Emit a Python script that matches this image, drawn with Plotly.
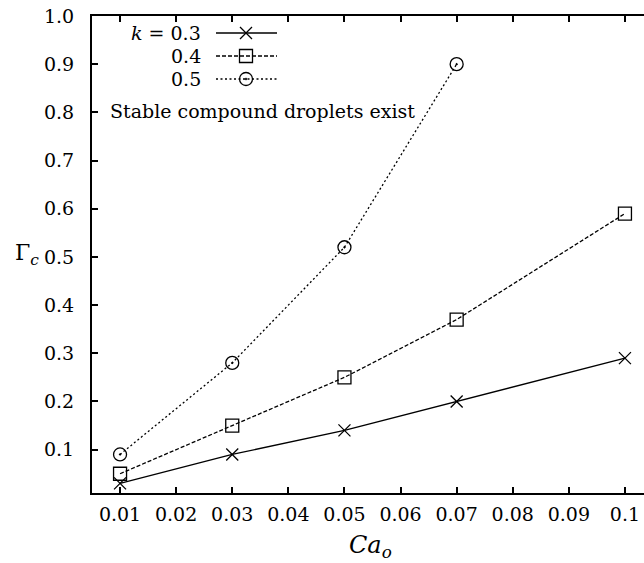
import plotly.graph_objects as go

# Critical surface tension ratio vs outer capillary number for three k values
ca_o = [0.01, 0.03, 0.05, 0.07, 0.1]
gamma_k03 = [0.03, 0.09, 0.14, 0.20, 0.29]
gamma_k04 = [0.05, 0.15, 0.25, 0.37, 0.59]
ca_o_k05 = [0.01, 0.03, 0.05, 0.07]
gamma_k05 = [0.09, 0.28, 0.52, 0.90]

x_ticks = [0.01, 0.02, 0.03, 0.04, 0.05, 0.06, 0.07, 0.08, 0.09, 0.1]
x_tick_text = ["0.01", "0.02", "0.03", "0.04", "0.05", "0.06", "0.07", "0.08", "0.09", "0.1"]
y_ticks = [0.1, 0.2, 0.3, 0.4, 0.5, 0.6, 0.7, 0.8, 0.9, 1.0]
y_tick_text = ["0.1", "0.2", "0.3", "0.4", "0.5", "0.6", "0.7", "0.8", "0.9", "1.0"]

series = [
    ("k = 0.3", ca_o, gamma_k03, "solid", "x-thin-open", 12),
    ("0.4", ca_o, gamma_k04, "4px,2px", "square-open", 13),
    ("0.5", ca_o_k05, gamma_k05, "2px,2.5px", "circle-open-dot", 13),
]

FONT = "DejaVu Serif"
W, H = 644, 563
L, T, B = 92, 16, 70


def px_x(p):
    return (p - L) / (W - L)


def px_y(p):
    return (H - B - p) / (H - B - T)


fig = go.Figure()
for name, xs, ys, dash, sym, size in series:
    fig.add_trace(go.Scatter(
        x=xs, y=ys, mode="lines+markers", name=name,
        line=dict(color="black", width=1.3, dash=dash),
        marker=dict(symbol=sym, size=size, color="black",
                    line=dict(color="black", width=1.3)),
        showlegend=False,
    ))

# Key drawn gnuplot-style: label on the left, sample on the right (pixel overlay axes)
key_rows = [33, 56, 79]
key_labels = ["<i>k</i> = 0.3", "0.4", "0.5"]
for (name, xs, ys, dash, sym, size), yrow, lab in zip(series, key_rows, key_labels):
    fig.add_trace(go.Scatter(
        x=[216, 277], y=[yrow, yrow], mode="lines", xaxis="x3", yaxis="y3",
        line=dict(color="black", width=1.3, dash=dash), showlegend=False,
        hoverinfo="skip",
    ))
    fig.add_trace(go.Scatter(
        x=[246], y=[yrow], mode="markers", xaxis="x3", yaxis="y3",
        marker=dict(symbol=sym, size=size, color="black",
                    line=dict(color="black", width=1.3)),
        showlegend=False, hoverinfo="skip",
    ))
    fig.add_annotation(
        x=px_x(203), y=px_y(yrow), xref="paper", yref="paper", text=lab,
        showarrow=False, xanchor="right", yanchor="middle",
        font=dict(family=FONT, size=19, color="black"),
    )

fig.add_annotation(
    x=px_x(108), y=px_y(111), xref="paper", yref="paper",
    text="Stable compound droplets exist",
    showarrow=False, xanchor="left", yanchor="middle",
    font=dict(family=FONT, size=19, color="black"),
)

# Axis titles
fig.add_annotation(
    x=px_x(27), y=px_y(254), xref="paper", yref="paper",
    text="Γ<sub><i>c</i></sub>",
    showarrow=False, xanchor="center", yanchor="middle",
    font=dict(family=FONT, size=22, color="black"),
)
fig.add_annotation(
    x=px_x(370), y=px_y(546), xref="paper", yref="paper",
    text="<i>Ca</i><sub><i>o</i></sub>",
    showarrow=False, xanchor="center", yanchor="middle",
    font=dict(family=FONT, size=24, color="black"),
)

x_range = [0.005, 0.005 + (W - L) / 56.1 * 0.01]
y_range = [0.01, 1.0]

axis_common = dict(
    showgrid=False, zeroline=False, showline=True, linecolor="black",
    linewidth=2, ticks="inside", ticklen=6, tickwidth=1.5, tickcolor="black",
    tickfont=dict(family=FONT, size=19, color="black"),
)

fig.update_layout(
    width=W, height=H,
    margin=dict(l=L, r=0, t=T, b=B),
    paper_bgcolor="white", plot_bgcolor="white",
    xaxis=dict(range=x_range, tickvals=x_ticks, ticktext=x_tick_text,
               ticklabelstandoff=3, **axis_common),
    xaxis2=dict(range=x_range, tickvals=x_ticks, overlaying="x", side="top",
                showticklabels=False, **axis_common),
    yaxis=dict(range=y_range, tickvals=y_ticks, ticktext=y_tick_text,
               ticklabelstandoff=12, **axis_common),
    xaxis3=dict(range=[L, W], visible=False, overlaying="x", fixedrange=True),
    yaxis3=dict(range=[H - B, T], visible=False, overlaying="y", fixedrange=True),
)
# Empty trace so the top axis is rendered
fig.add_trace(go.Scatter(x=[None], y=[None], xaxis="x2", yaxis="y",
                         showlegend=False, hoverinfo="skip"))

fig.write_html("out.html")
